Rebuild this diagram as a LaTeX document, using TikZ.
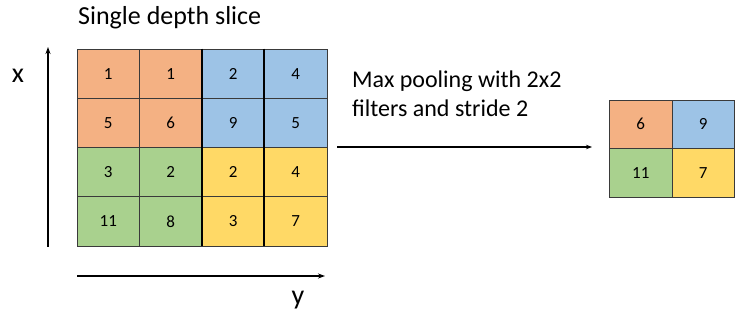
\documentclass[tikz,border=0pt]{standalone}
\usepackage{fontspec}
\setmainfont{Carlito}
\usetikzlibrary{arrows.meta}
\definecolor{corange}{HTML}{F4B183}
\definecolor{cblue}{HTML}{9DC3E6}
\definecolor{cgreen}{HTML}{A9D18E}
\definecolor{cyellow}{HTML}{FFD966}
\definecolor{cline}{HTML}{3A3A3A}
\begin{document}
\begin{tikzpicture}[x=1pt,y=-1pt,
  cell/.style={draw=cline,line width=0.8pt,minimum width=62.5pt,minimum height=49.25pt,inner sep=0pt,font=\fontsize{17}{20}\selectfont,anchor=center},
  scell/.style={cell,minimum height=48.5pt},
  axis/.style={line width=1.6pt,-{Stealth[length=7pt,width=5pt]}},
  lbl/.style={font=\fontsize{24}{29}\selectfont,inner sep=0pt}]
\useasboundingbox (0,0) rectangle (739,320);
% big grid
\foreach \r/\a/\b/\c/\d [count=\i] in {0/1/1/2/4,1/5/6/9/5,2/3/2/2/4,3/11/8/3/7}{
  \pgfmathsetmacro\yy{49+49.25*\r+24.625}
  \ifnum\r<2
    \node[cell,fill=corange] (g\i a) at (108.25,\yy) {\a};
    \node[cell,fill=corange] (g\i b) at (170.75,\yy) {\b};
    \node[cell,fill=cblue] (g\i c) at (233.25,\yy) {\c};
    \node[cell,fill=cblue] (g\i d) at (295.75,\yy) {\d};
  \else
    \node[cell,fill=cgreen] (g\i a) at (108.25,\yy) {\a};
    \node[cell,fill=cgreen] (g\i b) at (170.75,\yy) {\b};
    \node[cell,fill=cyellow] (g\i c) at (233.25,\yy) {\c};
    \node[cell,fill=cyellow] (g\i d) at (295.75,\yy) {\d};
  \fi
}
\draw[line width=1.8pt,black] (g1c.north west) -- (g4c.south west);
\draw[line width=1.8pt,black] (g1d.north west) -- (g4d.south west);
% small grid
\node[scell,fill=corange] (s1) at (640.75,124.25) {6};
\node[scell,fill=cblue] (s2) at (703.25,124.25) {9};
\node[scell,fill=cgreen] (s3) at (640.75,172.75) {11};
\node[scell,fill=cyellow] (s4) at (703.25,172.75) {7};
% axes
\coordinate (xa0) at (48,247);
\coordinate (xa1) at (48,47);
\coordinate (ya0) at (77,276);
\coordinate (ya1) at (325,276);
\draw[axis] (xa0) -- (xa1);
\draw[axis] (ya0) -- (ya1);
\node[font=\fontsize{28}{32}\selectfont,inner sep=0pt] (xl) at (18,76) {x};
\node[font=\fontsize{28}{32}\selectfont,inner sep=0pt] (yl) at (298,300) {y};
% title
\node[font=\fontsize{26}{30}\selectfont,inner sep=0pt,anchor=west] (title) at (78,18) {Single depth slice};
% arrow and text
\coordinate (p0) at (337,147);
\coordinate (p1) at (592,147);
\draw[axis,line width=1.3pt,-{Stealth[length=6pt,width=4.5pt]}] (p0) -- (p1);
\node[lbl,anchor=north west,align=left] (mp) at (352,71) {Max pooling with 2x2\\filters and stride 2};
\end{tikzpicture}
\end{document}
